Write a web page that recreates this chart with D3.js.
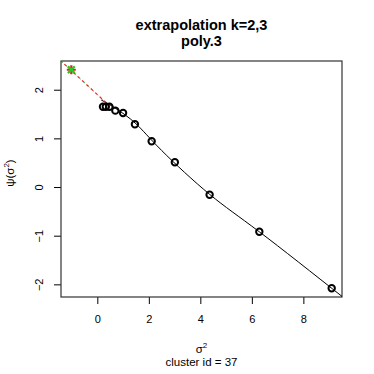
<!DOCTYPE html>
<html>
<head>
<meta charset="utf-8">
<script src="https://cdn.jsdelivr.net/npm/d3@7"></script>
<style>
  body { margin: 0; background: #fff; }
  text { font-family: "Liberation Sans", Arial, sans-serif; }
</style>
</head>
<body>
<div id="chart"></div>
<script>
var titleLines = ["extrapolation k=2,3", "poly.3"];
var xTicks = [0, 2, 4, 6, 8];
var yTicks = [-2, -1, 0, 1, 2];

// observed points
var sigma2 = [0.22, 0.33, 0.47, 0.70, 1.00, 1.46, 2.11, 3.01, 4.36, 6.29, 9.10];
var psi    = [1.65, 1.65, 1.65, 1.57, 1.52, 1.29, 0.94, 0.51, -0.16, -0.92, -2.08];

// fitted polynomial curve
var fitX = [0.15, 0.70, 1.50, 2.50, 4.36, 6.29, 9.60];
var fitY = [1.79, 1.62, 1.30, 0.75, -0.15, -0.92, -2.29];

// extrapolation segment and extrapolated value
var extX = [-1.45, 0.41];
var extY = [2.61, 1.70];
var starX = -1.01;
var starY = 2.41;

function drawChart() {
  var width = 374, height = 374;
  var mLeft = 61, mRight = 342, mTop = 61, mBottom = 297;

  var svg = d3.select("#chart").append("svg")
    .attr("width", width)
    .attr("height", height);

  var x = d3.scaleLinear().domain([-1.41, 9.50]).range([mLeft, mRight]);
  var y = d3.scaleLinear().domain([-2.26, 2.59]).range([mBottom, mTop]);

  svg.append("clipPath").attr("id", "clip")
    .append("rect")
    .attr("x", mLeft).attr("y", mTop)
    .attr("width", mRight - mLeft).attr("height", mBottom - mTop);

  // title
  svg.selectAll("text.title").data(titleLines).enter().append("text")
    .attr("class", "title")
    .attr("x", (mLeft + mRight) / 2)
    .attr("y", function(d, i) { return 30 + i * 16; })
    .attr("text-anchor", "middle")
    .style("font-size", "14.5px")
    .style("font-weight", "bold")
    .text(function(d) { return d; });

  // x axis
  var xAxis = svg.append("g")
    .attr("transform", "translate(0," + mBottom + ")")
    .call(d3.axisBottom(x).tickValues(xTicks).tickSize(7).tickPadding(11).tickFormat(d3.format("d")));
  xAxis.select(".domain").remove();
  xAxis.selectAll("text").style("font-size", "11px").style("font-family", "Liberation Sans, Arial, sans-serif");

  // y axis
  var yAxis = svg.append("g")
    .attr("transform", "translate(" + mLeft + ",0)")
    .call(d3.axisLeft(y).tickValues(yTicks).tickSize(7)
      .tickFormat(function(d) { return d < 0 ? "\u2212" + Math.abs(d) : d; }));
  yAxis.select(".domain").remove();
  yAxis.selectAll("text")
    .attr("x", 0).attr("y", -18).attr("dy", 0)
    .attr("text-anchor", "middle")
    .attr("transform", "rotate(-90)")
    .style("font-size", "11px")
    .style("font-family", "Liberation Sans, Arial, sans-serif");

  // box
  svg.append("rect")
    .attr("x", mLeft).attr("y", mTop)
    .attr("width", mRight - mLeft).attr("height", mBottom - mTop)
    .attr("fill", "none").attr("stroke", "#333").attr("stroke-width", 1.2);

  // axis titles
  var xl = svg.append("text")
    .attr("x", (mLeft + mRight) / 2).attr("y", 353)
    .attr("text-anchor", "middle").style("font-size", "11.5px");
  xl.append("tspan").text("\u03c3");
  xl.append("tspan").attr("dy", -5).style("font-size", "8px").text("2");

  svg.append("text")
    .attr("x", (mLeft + mRight) / 2).attr("y", 366)
    .attr("text-anchor", "middle").style("font-size", "11.5px")
    .text("cluster id = 37");

  var yl = svg.append("text")
    .attr("transform", "translate(14," + ((mTop + mBottom) / 2 - 6) + ") rotate(-90)")
    .attr("text-anchor", "middle").style("font-size", "11.5px");
  yl.append("tspan").text("\u03c8(\u03c3");
  yl.append("tspan").attr("dy", -5).style("font-size", "8px").text("2");
  yl.append("tspan").attr("dy", 5).text(")");

  var plot = svg.append("g").attr("clip-path", "url(#clip)");

  var line = d3.line()
    .x(function(d) { return x(d[0]); })
    .y(function(d) { return y(d[1]); });

  // fitted curve
  plot.append("path")
    .datum(d3.zip(fitX, fitY))
    .attr("d", line.curve(d3.curveNatural))
    .attr("fill", "none").attr("stroke", "#000").attr("stroke-width", 1);

  // extrapolation dashes
  var extLine = d3.line()
    .x(function(d) { return x(d[0]); })
    .y(function(d) { return y(d[1]); });
  plot.append("path")
    .datum(d3.zip(extX, extY))
    .attr("d", extLine)
    .attr("fill", "none").attr("stroke", "#e8201c").attr("stroke-width", 1.2)
    .attr("stroke-dasharray", "3,3");
  plot.append("path")
    .datum(d3.zip(extX, extY))
    .attr("d", extLine)
    .attr("fill", "none").attr("stroke", "#2a9a2a").attr("stroke-width", 1)
    .attr("stroke-dasharray", "1,5").attr("stroke-dashoffset", -3);

  // points
  plot.selectAll("circle.pt").data(d3.zip(sigma2, psi)).enter().append("circle")
    .attr("class", "pt")
    .attr("cx", function(d) { return x(d[0]); })
    .attr("cy", function(d) { return y(d[1]); })
    .attr("r", 3.2)
    .attr("fill", "none").attr("stroke", "#000").attr("stroke-width", 2);

  // extrapolated value marker
  var sx = x(starX), sy = y(starY), s = 4.5;
  var star = plot.append("g");
  star.append("path")
    .attr("d", "M" + sx + "," + (sy - s) + "V" + (sy + s) + "M" + (sx - s) + "," + sy + "H" + (sx + s))
    .attr("stroke", "#e8201c").attr("stroke-width", 2.2);
  star.append("path")
    .attr("d", "M" + (sx - s * 0.75) + "," + (sy - s * 0.75) + "L" + (sx + s * 0.75) + "," + (sy + s * 0.75) +
               "M" + (sx - s * 0.75) + "," + (sy + s * 0.75) + "L" + (sx + s * 0.75) + "," + (sy - s * 0.75))
    .attr("stroke", "#22cc22").attr("stroke-width", 2.2);
}

drawChart();
</script>
</body>
</html>
